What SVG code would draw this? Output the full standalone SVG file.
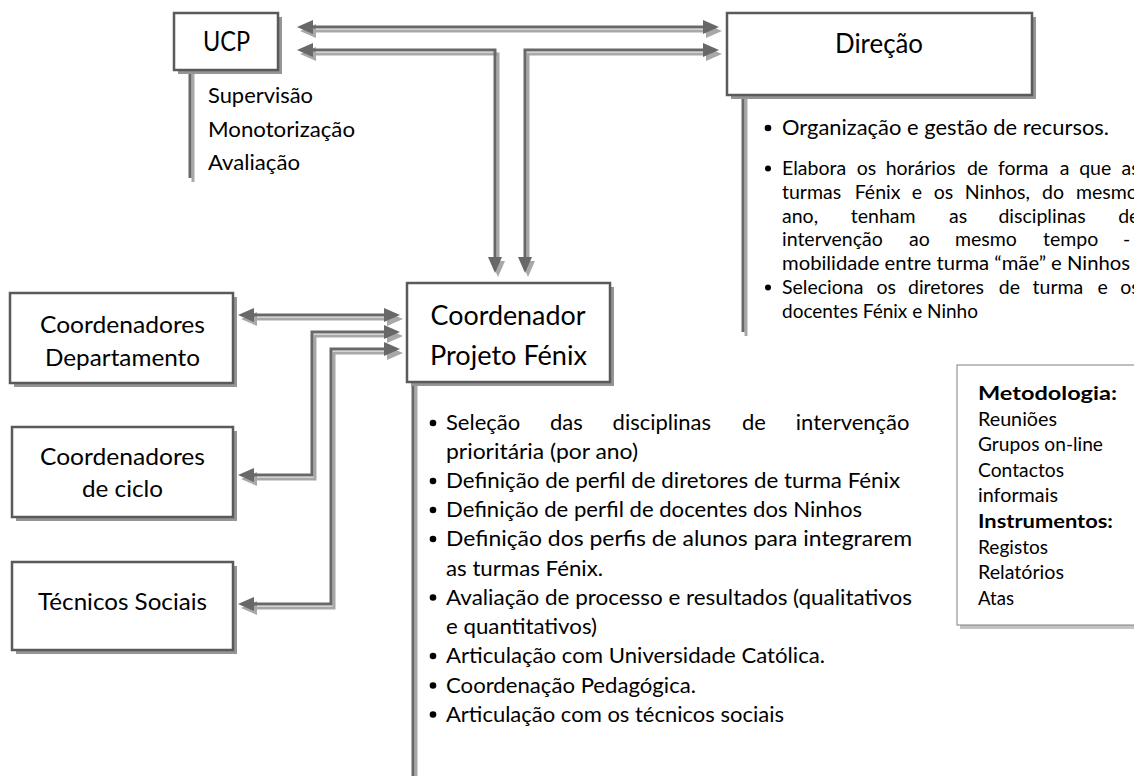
<svg xmlns="http://www.w3.org/2000/svg" width="1134" height="776" viewBox="0 0 1134 776">
  <style>
    text { font-family: Lato, "Open Sans", "Liberation Sans", sans-serif; fill: #000; }
    .box { fill: #fff; stroke: #5a5a5a; stroke-width: 2.5; }
    .boxshadow { fill: #959595; }
    .head { font-size: 26px; text-anchor: middle; }
    .side { font-size: 23px; text-anchor: middle; }
    .sub { font-size: 21px; }
    .body { font-size: 22px; }
    .dir { font-size: 19.5px; }
    .dir1 { font-size: 22px; }
    .meta { font-size: 18.5px; }
    .b { font-weight: bold; }
    .wire { fill: none; stroke: #686868; stroke-width: 3; }
    .wire-shadow { fill: none; stroke: #a8a8a8; stroke-width: 3; }
    .dot { fill: #000; }
  </style>
  <defs>
    <marker id="head" markerUnits="userSpaceOnUse" markerWidth="16" markerHeight="16" viewBox="0 0 16 16" refX="12" refY="8" orient="auto-start-reverse">
      <path d="M0,1 L16,8 L0,15 z" fill="#686868"/>
    </marker>
    <marker id="head-shadow" markerUnits="userSpaceOnUse" markerWidth="16" markerHeight="16" viewBox="0 0 16 16" refX="12" refY="8" orient="auto-start-reverse">
      <path d="M0,1 L16,8 L0,15 z" fill="#a8a8a8"/>
    </marker>
  </defs>

  <!-- connectors: shadows first, then the dark strokes on top -->
  <g id="connectors">
    <g transform="translate(3,4)">
      <path class="wire-shadow" d="M301,27 H715" marker-start="url(#head-shadow)" marker-end="url(#head-shadow)"/>
      <path class="wire-shadow" d="M495,269 V50 H301" marker-start="url(#head-shadow)" marker-end="url(#head-shadow)"/>
      <path class="wire-shadow" d="M525,269 V50 H715" marker-start="url(#head-shadow)" marker-end="url(#head-shadow)"/>
      <path class="wire-shadow" d="M242,315 H396" marker-start="url(#head-shadow)" marker-end="url(#head-shadow)"/>
      <path class="wire-shadow" d="M396,332 H312 V475 H242" marker-start="url(#head-shadow)" marker-end="url(#head-shadow)"/>
      <path class="wire-shadow" d="M396,349 H331 V604 H242" marker-start="url(#head-shadow)" marker-end="url(#head-shadow)"/>
      <path class="wire-shadow" d="M190,70 V178"/>
      <path class="wire-shadow" d="M743,95 V332"/>
      <path class="wire-shadow" d="M413,382 V776"/>
    </g>
    <path class="wire" d="M301,27 H715" marker-start="url(#head)" marker-end="url(#head)"/>
    <path class="wire" d="M495,269 V50 H301" marker-start="url(#head)" marker-end="url(#head)"/>
    <path class="wire" d="M525,269 V50 H715" marker-start="url(#head)" marker-end="url(#head)"/>
    <path class="wire" d="M242,315 H396" marker-start="url(#head)" marker-end="url(#head)"/>
    <path class="wire" d="M396,332 H312 V475 H242" marker-start="url(#head)" marker-end="url(#head)"/>
    <path class="wire" d="M396,349 H331 V604 H242" marker-start="url(#head)" marker-end="url(#head)"/>
    <path class="wire" d="M190,70 V178"/>
    <path class="wire" d="M743,95 V332"/>
    <path class="wire" d="M413,382 V776"/>
  </g>

  <!-- UCP -->
  <g id="ucp">
    <rect class="boxshadow" x="178" y="17" width="104" height="57"/>
    <rect class="box" x="174" y="13" width="104" height="57"/>
    <text class="head" x="226.5" y="51" textLength="47" lengthAdjust="spacingAndGlyphs">UCP</text>
    <text class="sub" x="208" y="103" textLength="105" lengthAdjust="spacingAndGlyphs">Supervisão</text>
    <text class="sub" x="208" y="137" textLength="147" lengthAdjust="spacingAndGlyphs">Monotorização</text>
    <text class="sub" x="208" y="170" textLength="92" lengthAdjust="spacingAndGlyphs">Avaliação</text>
  </g>

  <!-- Direção -->
  <g id="direcao">
    <rect class="boxshadow" x="731" y="17" width="305" height="82"/>
    <rect class="box" x="727" y="13" width="305" height="82"/>
    <text class="head" x="879" y="53" textLength="88" lengthAdjust="spacingAndGlyphs">Direção</text>
    <circle class="dot" cx="768" cy="128" r="3.3"/>
    <text class="dir1" x="782" y="135" textLength="327" lengthAdjust="spacingAndGlyphs">Organização e gestão de recursos.</text>
    <circle class="dot" cx="768" cy="168.5" r="3"/>
    <!-- justified lines: words placed one by one -->
    <text class="dir" y="175"><tspan x="782">Elabora</tspan><tspan x="856.8">os</tspan><tspan x="885.7">horários</tspan><tspan x="966.9">de</tspan><tspan x="998">forma</tspan><tspan x="1059.7">a</tspan><tspan x="1079.2">que</tspan><tspan x="1121.5">as</tspan></text>
    <text class="dir" y="198.8"><tspan x="782">turmas</tspan><tspan x="854.7">Fénix</tspan><tspan x="911.8">e</tspan><tspan x="933.8">os</tspan><tspan x="964.8">Ninhos,</tspan><tspan x="1042.1">do</tspan><tspan x="1075.9">mesmo</tspan></text>
    <text class="dir" y="222.6"><tspan x="782">ano,</tspan><tspan x="850.8">tenham</tspan><tspan x="949">as</tspan><tspan x="998.4">disciplinas</tspan><tspan x="1118.2">de</tspan></text>
    <text class="dir" y="246.4"><tspan x="782">intervenção</tspan><tspan x="909">ao</tspan><tspan x="955">mesmo</tspan><tspan x="1043">tempo</tspan><tspan x="1123">-</tspan></text>
    <text class="dir" x="782" y="270.2" textLength="348" lengthAdjust="spacingAndGlyphs">mobilidade entre turma “mãe” e Ninhos</text>
    <circle class="dot" cx="768" cy="287.5" r="3"/>
    <text class="dir" y="294"><tspan x="782">Seleciona</tspan><tspan x="876.4">os</tspan><tspan x="908">diretores</tspan><tspan x="998.8">de</tspan><tspan x="1032.6">turma</tspan><tspan x="1097.6">e</tspan><tspan x="1120.2">os</tspan></text>
    <text class="dir" x="782" y="317.8" textLength="196" lengthAdjust="spacingAndGlyphs">docentes Fénix e Ninho</text>
  </g>

  <!-- Coordenador Projeto Fénix -->
  <g id="coordenador">
    <rect class="boxshadow" x="411" y="287" width="203" height="99"/>
    <rect class="box" x="407" y="283" width="203" height="99"/>
    <text class="head" x="508" y="325" style="font-size:27px" textLength="155" lengthAdjust="spacingAndGlyphs">Coordenador</text>
    <text class="head" x="508.5" y="365" style="font-size:27px" textLength="157" lengthAdjust="spacingAndGlyphs">Projeto Fénix</text>

    <circle class="dot" cx="433" cy="423" r="3.3"/>
    <text class="body" y="430"><tspan x="446">Seleção</tspan><tspan x="549.9">das</tspan><tspan x="612.6">disciplinas</tspan><tspan x="742">de</tspan><tspan x="795.8">intervenção</tspan></text>
    <text class="body" x="446" y="459" textLength="192" lengthAdjust="spacingAndGlyphs">prioritária (por ano)</text>
    <circle class="dot" cx="433" cy="481" r="3.3"/>
    <text class="body" x="446" y="488" textLength="454" lengthAdjust="spacingAndGlyphs">Definição de perfil de diretores de turma Fénix</text>
    <circle class="dot" cx="433" cy="510" r="3.3"/>
    <text class="body" x="446" y="517" textLength="416" lengthAdjust="spacingAndGlyphs">Definição de perfil de docentes dos Ninhos</text>
    <circle class="dot" cx="433" cy="539" r="3.3"/>
    <text class="body" x="446" y="546" textLength="466" lengthAdjust="spacingAndGlyphs">Definição dos perfis de alunos para integrarem</text>
    <text class="body" x="446" y="575.5" textLength="157" lengthAdjust="spacingAndGlyphs">as turmas Fénix.</text>
    <circle class="dot" cx="433" cy="597.5" r="3.3"/>
    <text class="body" x="446" y="604.5" textLength="466" lengthAdjust="spacingAndGlyphs">Avaliação de processo e resultados (qualitativos</text>
    <text class="body" x="446" y="633.5" textLength="151" lengthAdjust="spacingAndGlyphs">e quantitativos)</text>
    <circle class="dot" cx="433" cy="656" r="3.3"/>
    <text class="body" x="446" y="663" textLength="379" lengthAdjust="spacingAndGlyphs">Articulação com Universidade Católica.</text>
    <circle class="dot" cx="433" cy="685.5" r="3.3"/>
    <text class="body" x="446" y="692.5" textLength="250" lengthAdjust="spacingAndGlyphs">Coordenação Pedagógica.</text>
    <circle class="dot" cx="433" cy="714.5" r="3.3"/>
    <text class="body" x="446" y="721.5" textLength="338" lengthAdjust="spacingAndGlyphs">Articulação com os técnicos sociais</text>
  </g>

  <!-- Coordenadores Departamento -->
  <g id="coord-departamento">
    <rect class="boxshadow" x="14" y="297" width="223" height="90"/>
    <rect class="box" x="10" y="293" width="223" height="90"/>
    <text class="side" x="122.5" y="333" textLength="165" lengthAdjust="spacingAndGlyphs">Coordenadores</text>
    <text class="side" x="122.5" y="366" textLength="155" lengthAdjust="spacingAndGlyphs">Departamento</text>
  </g>

  <!-- Coordenadores de ciclo -->
  <g id="coord-ciclo">
    <rect class="boxshadow" x="16" y="431" width="221" height="90"/>
    <rect class="box" x="12" y="427" width="221" height="90"/>
    <text class="side" x="122.5" y="465" textLength="165" lengthAdjust="spacingAndGlyphs">Coordenadores</text>
    <text class="side" x="122.5" y="497" textLength="81" lengthAdjust="spacingAndGlyphs">de ciclo</text>
  </g>

  <!-- Técnicos Sociais -->
  <g id="tecnicos">
    <rect class="boxshadow" x="16" y="566" width="221" height="88"/>
    <rect class="box" x="12" y="562" width="221" height="88"/>
    <text class="side" x="122.5" y="610" textLength="169" lengthAdjust="spacingAndGlyphs">Técnicos Sociais</text>
  </g>

  <!-- Metodologia / Instrumentos -->
  <g id="metodologia">
    <rect x="960" y="368" width="200" height="261" fill="#c4c4c4"/>
    <rect x="957" y="365" width="200" height="260" fill="#fff" stroke="#808080" stroke-width="1"/>
    <text class="meta b" x="978" y="400" textLength="139" lengthAdjust="spacingAndGlyphs">Metodologia:</text>
    <text class="meta" x="978" y="425.6" textLength="79" lengthAdjust="spacingAndGlyphs">Reuniões</text>
    <text class="meta" x="978" y="451.2" textLength="125" lengthAdjust="spacingAndGlyphs">Grupos on-line</text>
    <text class="meta" x="978" y="476.8" textLength="86" lengthAdjust="spacingAndGlyphs">Contactos</text>
    <text class="meta" x="978" y="502.4" textLength="80" lengthAdjust="spacingAndGlyphs">informais</text>
    <text class="meta b" x="978" y="528" textLength="135" lengthAdjust="spacingAndGlyphs">Instrumentos:</text>
    <text class="meta" x="978" y="553.6" textLength="70" lengthAdjust="spacingAndGlyphs">Registos</text>
    <text class="meta" x="978" y="579.2" textLength="86" lengthAdjust="spacingAndGlyphs">Relatórios</text>
    <text class="meta" x="978" y="604.8" textLength="36" lengthAdjust="spacingAndGlyphs">Atas</text>
  </g>
</svg>
